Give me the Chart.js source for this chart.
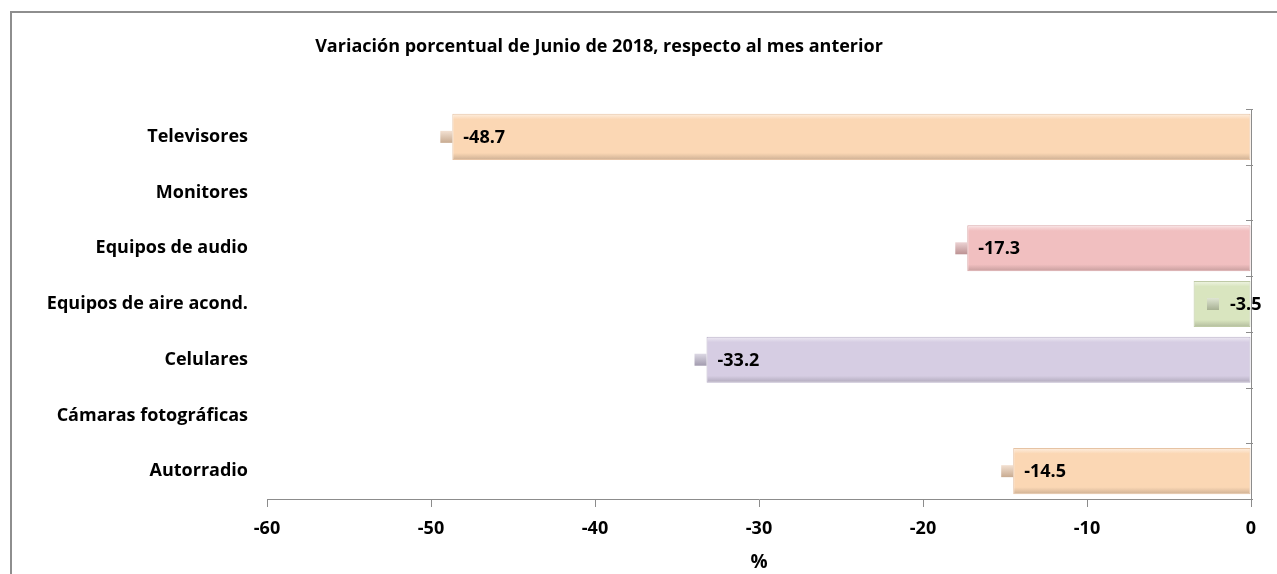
<!DOCTYPE html>
<html>
<head>
<meta charset="utf-8">
<script src="https://cdn.jsdelivr.net/npm/chart.js@4.4.0/dist/chart.umd.min.js"></script>
<style>
  html, body { margin: 0; padding: 0; background: #fff; overflow: hidden; }
  #wrap { position: relative; width: 1277px; height: 574px; }
  #frame { position: absolute; left: 10px; top: 11px; width: 1300px; height: 600px; border: 2px solid #8e8e8e; box-sizing: border-box; }
  #title { position: absolute; left: 0; width: 1198px; top: 33px; text-align: center; font: bold 18px "Open Sans", sans-serif; color: #000; }
  canvas { position: absolute; left: 0; top: 0; }
</style>
</head>
<body>
<div id="wrap">
  <div id="frame"></div>
  <canvas id="chart" width="1277" height="574"></canvas>
  <div id="title">Variación porcentual de Junio de 2018, respecto al mes anterior</div>
</div>
<script>
const categories = ['Televisores', 'Monitores', 'Equipos de audio', 'Equipos de aire acond.', 'Celulares', 'Cámaras fotográficas', 'Autorradio'];
const values = [-48.7, null, -17.3, -3.5, -33.2, null, -14.5];
const barColors = ['#fbd7b4', '#fbd7b4', '#f1bfc0', '#d9e5bf', '#d6cde3', '#d6cde3', '#fbd7b4'];
const keyColors = ['#e6c3a4', '#e6c3a4', '#d9a5a6', '#bfcaa6', '#b9b0c8', '#b9b0c8', '#e6c3a4'];
const xTicks = [-60, -50, -40, -30, -20, -10, 0];

const FONT = '"Open Sans", sans-serif';
const ctx = document.getElementById('chart');

function shade(hex, f) {
  const n = parseInt(hex.slice(1), 16);
  let r = n >> 16, g = (n >> 8) & 255, b = n & 255;
  if (f > 0) { r += (255 - r) * f; g += (255 - g) * f; b += (255 - b) * f; }
  else { r *= 1 + f; g *= 1 + f; b *= 1 + f; }
  return 'rgb(' + Math.round(r) + ',' + Math.round(g) + ',' + Math.round(b) + ')';
}

// labels with a small colour key, like the excel data labels
const barLabels = {
  id: 'barLabels',
  afterDatasetsDraw(chart) {
    const c = chart.ctx;
    const meta = chart.getDatasetMeta(0);
    c.save();
    c.font = 'bold 18px ' + FONT;
    c.textBaseline = 'middle';
    meta.data.forEach((bar, i) => {
      if (values[i] === null) return;
      const txt = values[i].toFixed(1);
      const tw = c.measureText(txt).width;
      const left = Math.min(bar.x, bar.base);
      const blockW = 13 + 10 + tw;
      let start = left - 12;
      if (bar.base - left < 80) start = bar.base - blockW + 11;
      const g = c.createLinearGradient(0, bar.y - 6, 0, bar.y + 7);
      g.addColorStop(0, shade(keyColors[i], 0.5));
      g.addColorStop(1, shade(keyColors[i], -0.15));
      c.fillStyle = g;
      c.fillRect(start, bar.y - 6, 12, 12);
      c.fillStyle = '#000';
      c.fillText(txt, start + 23, bar.y + 1);
    });
    c.restore();
  }
};

// small tick marks on the zero line between categories
const zeroTicks = {
  id: 'zeroTicks',
  afterDraw(chart) {
    const c = chart.ctx;
    const x0 = chart.scales.x.getPixelForValue(0);
    const y = chart.scales.y;
    c.save();
    c.strokeStyle = '#8c8c8c';
    c.lineWidth = 1;
    for (let i = 0; i <= categories.length; i++) {
      const py = Math.round(y.getPixelForValue(i - 0.5)) + 0.5;
      c.beginPath();
      c.moveTo(x0 - 5, py);
      c.lineTo(x0 + 2, py);
      c.stroke();
    }
    c.restore();
  }
};

new Chart(ctx, {
  type: 'bar',
  data: {
    labels: categories,
    datasets: [{
      data: values,
      backgroundColor: (context) => {
        const chart = context.chart;
        const i = context.dataIndex;
        const base = barColors[i];
        if (!chart.chartArea) return base;
        const y = chart.scales.y.getPixelForValue(i);
        const h = 23;
        const g = chart.ctx.createLinearGradient(0, y - h, 0, y + h);
        g.addColorStop(0, shade(base, 0.6));
        g.addColorStop(0.12, base);
        g.addColorStop(0.85, base);
        g.addColorStop(1, shade(base, -0.18));
        return g;
      },
      borderColor: keyColors,
      borderWidth: 1,
      borderSkipped: false,
      barPercentage: 0.9,
      categoryPercentage: 0.92
    }]
  },
  options: {
    indexAxis: 'y',
    responsive: false,
    animation: false,
    layout: { padding: { left: 10, right: 26, top: 109, bottom: 0 } },
    plugins: {
      legend: { display: false },
      tooltip: { enabled: false },
      title: { display: false }
    },
    scales: {
      x: {
        min: -60,
        max: 0,
        afterBuildTicks: (s) => { s.ticks = xTicks.map(v => ({ value: v })); },
        afterFit: (s) => { s.height = 75; },
        border: { display: true, color: '#8c8c8c', width: 1 },
        grid: {
          color: (c) => c.tick && c.tick.value === 0 ? '#8c8c8c' : 'rgba(0,0,0,0)',
          tickColor: '#8c8c8c',
          tickLength: 8
        },
        ticks: { color: '#000', font: { family: FONT, size: 18, weight: 'bold' }, padding: 11, maxRotation: 0 },
        title: { display: true, text: '%', color: '#000', font: { family: FONT, size: 19, weight: 'bold' }, padding: { top: 0, bottom: 0 } }
      },
      y: {
        afterFit: (s) => { s.width = 257; },
        border: { display: false },
        grid: { display: false },
        ticks: { color: '#000', font: { family: FONT, size: 18, weight: 'bold' }, padding: 11 }
      }
    }
  },
  plugins: [barLabels, zeroTicks]
});
</script>
</body>
</html>
